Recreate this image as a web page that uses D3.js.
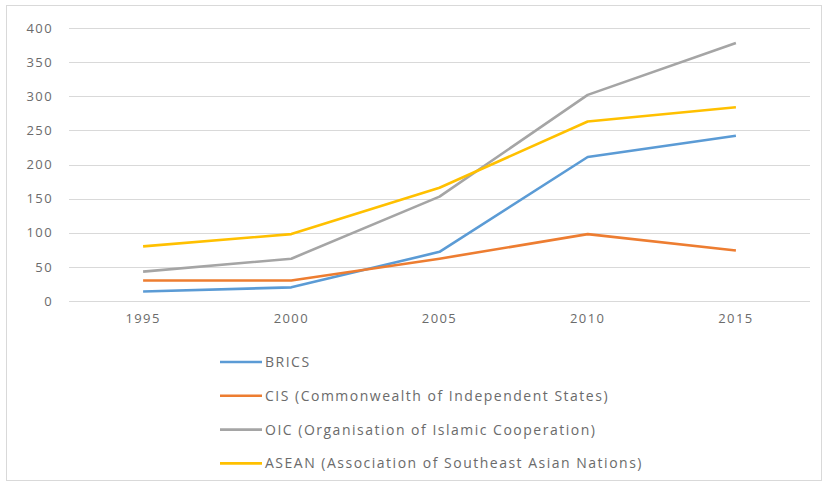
<!DOCTYPE html>
<html lang="en">
<head>
	<meta charset="UTF-8">
	<script src="https://cdn.jsdelivr.net/npm/d3@7"></script>
	<title>Regional groupings line chart</title>
	<style>
		body {
			margin: 0;
			background: #fff;
			font-family: 'Open Sans', sans-serif;
		}
		.tick text, .legend-label {
			fill: #6b6b6b;
		}
	</style>
</head>
<body>
	<div id="chart"></div>
	<script>
		// data
		const years = ['1995', '2000', '2005', '2010', '2015'];
		const seriesNames = [
			'BRICS',
			'CIS (Commonwealth of Independent States)',
			'OIC (Organisation of Islamic Cooperation)',
			'ASEAN (Association of Southeast Asian Nations)'
		];
		const brics = [14, 20, 72, 211, 242];
		const cis = [30, 30, 62, 98, 74];
		const oic = [43, 62, 153, 302, 378];
		const asean = [80, 98, 166, 263, 284];
		const yTicks = [0, 50, 100, 150, 200, 250, 300, 350, 400];
		const colors = ['#5b9bd5', '#ed7d31', '#a5a5a5', '#ffc000'];

		const series = [brics, cis, oic, asean].map((vals, i) => ({
			name: seriesNames[i],
			color: colors[i],
			values: vals.map((v, j) => ({ year: years[j], value: v }))
		}));

		const width = 827;
		const height = 487;

		const svg = d3.select('#chart')
			.append('svg')
			.attr('width', width)
			.attr('height', height);

		// outer chart frame
		svg.append('rect')
			.attr('x', 6.5).attr('y', 5.5)
			.attr('width', 815).attr('height', 475)
			.attr('fill', '#fff')
			.attr('stroke', '#d9d9d9');

		const x = d3.scaleBand()
			.domain(years)
			.range([69, 810]);
		const y = d3.scaleLinear()
			.domain([0, 400])
			.range([301, 28]);

		// gridlines
		svg.append('g')
			.selectAll('line')
			.data(yTicks)
			.enter()
			.append('line')
			.attr('x1', 69).attr('x2', 810)
			.attr('y1', d => Math.round(y(d)) + 0.5)
			.attr('y2', d => Math.round(y(d)) + 0.5)
			.attr('stroke', '#d9d9d9')
			.attr('stroke-width', 1);

		// y axis labels
		const yAxis = d3.axisLeft(y).tickValues(yTicks).tickSize(0).tickPadding(0);
		svg.append('g')
			.attr('transform', 'translate(53,0)')
			.call(yAxis)
			.call(g => g.select('.domain').remove())
			.selectAll('text')
			.attr('font-family', 'Open Sans, sans-serif')
			.attr('font-size', 13)
			.attr('letter-spacing', 1.4);

		// x axis labels
		const xAxis = d3.axisBottom(x).tickSize(0).tickPadding(0);
		svg.append('g')
			.attr('transform', 'translate(0,314)')
			.call(xAxis)
			.call(g => g.select('.domain').remove())
			.selectAll('text')
			.attr('font-family', 'Open Sans, sans-serif')
			.attr('font-size', 13)
			.attr('letter-spacing', 1.4);

		// lines
		const line = d3.line()
			.x(d => x(d.year) + x.bandwidth() / 2)
			.y(d => y(d.value));

		svg.append('g')
			.selectAll('path')
			.data(series)
			.enter()
			.append('path')
			.attr('d', d => line(d.values))
			.attr('fill', 'none')
			.attr('stroke', d => d.color)
			.attr('stroke-width', 2.6)
			.attr('stroke-linejoin', 'round');

		// legend
		const legend = svg.append('g')
			.selectAll('g')
			.data(series)
			.enter()
			.append('g')
			.attr('transform', (d, i) => `translate(220, ${362 + i * 33.8})`);

		legend.append('line')
			.attr('x1', 0).attr('x2', 42)
			.attr('stroke', d => d.color)
			.attr('stroke-width', 2.6);

		legend.append('text')
			.attr('class', 'legend-label')
			.attr('x', 45)
			.attr('dy', '0.35em')
			.attr('font-size', 14)
			.attr('letter-spacing', 1.5)
			.text(d => d.name);
	</script>
</body>
</html>
